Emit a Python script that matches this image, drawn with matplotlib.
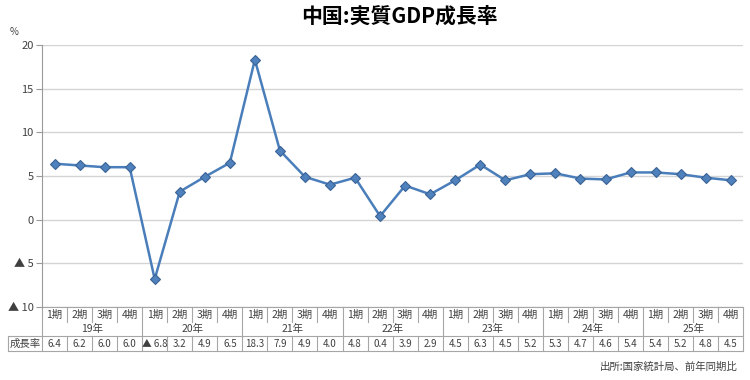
import matplotlib
matplotlib.use('Agg')
import matplotlib.pyplot as plt

plt.rcParams['font.family'] = ['Noto Sans CJK JP', 'DejaVu Sans']

# データ
years = ['19年', '20年', '21年', '22年', '23年', '24年', '25年']
quarters = ['1期', '2期', '3期', '4期']
growth = [6.4, 6.2, 6.0, 6.0,
          -6.8, 3.2, 4.9, 6.5,
          18.3, 7.9, 4.9, 4.0,
          4.8, 0.4, 3.9, 2.9,
          4.5, 6.3, 4.5, 5.2,
          5.3, 4.7, 4.6, 5.4,
          5.4, 5.2, 4.8, 4.5]
yticks = [-10, -5, 0, 5, 10, 15, 20]


def fmt(v):
    s = f'{abs(v):g}' if isinstance(v, int) else f'{abs(v):.1f}'
    return ('▲ ' + s) if v < 0 else s


n = len(growth)
x = list(range(n))
line_col = '#4a7ebb'
grid_col = '#d4d4d4'
tab_col = '#a6a6a6'
txt_col = '#404040'

fig = plt.figure(figsize=(7.5, 3.8), dpi=100)
ax = fig.add_axes([0.056, 0.192, 0.935, 0.69])

ax.plot(x, growth, color=line_col, lw=1.8, marker='D', ms=5.5,
        mfc='#4f81bd', mec='#3a6396', mew=0.8, zorder=3)

ax.set_xlim(-0.5, n - 0.5)
ax.set_ylim(-10, 20)
ax.set_yticks(yticks)
ax.set_yticklabels([fmt(v) for v in yticks], fontsize=8, color=txt_col)
ax.yaxis.grid(True, color=grid_col, lw=1)
ax.set_axisbelow(True)
ax.set_xticks([])
for s in ['top', 'right', 'bottom']:
    ax.spines[s].set_visible(False)
ax.spines['left'].set_color('#9a9a9a')
ax.tick_params(axis='y', length=4, color='#9a9a9a', pad=2)

ax.text(-0.04, 1.03, '%', transform=ax.transAxes, fontsize=7, color=txt_col,
        ha='center', va='bottom')

fig.suptitle('中国:実質GDP成長率', x=0.533, y=0.985, fontsize=15, fontweight='bold')

# 表
tr = ax.get_xaxis_transform()
r0, r1, r2, r3 = 0.0, -0.057, -0.111, -0.168
xl = -0.5 - 34 / 701 * n  # ラベル列の左端
kw = dict(color=tab_col, lw=0.8, transform=tr, clip_on=False)

ax.plot([-0.5, n - 0.5], [r0, r0], **kw)
ax.plot([xl, n - 0.5], [r2, r2], **kw)
ax.plot([xl, n - 0.5], [r3, r3], **kw)
ax.plot([xl, xl], [r2, r3], **kw)
ax.plot([-0.5, -0.5], [r0, r3], **kw)
ax.plot([n - 0.5, n - 0.5], [r0, r3], **kw)

for i in range(n):
    ax.text(i, (r0 + r1) / 2, quarters[i % 4], transform=tr, ha='center', va='center',
            fontsize=7.5, color=txt_col)
    ax.text(i, (r2 + r3) / 2, fmt(growth[i]), transform=tr, ha='center', va='center',
            fontsize=7, color=txt_col)
    if i > 0:
        ax.plot([i - 0.5, i - 0.5], [r0, r1 if i % 4 else r2], **kw)
        ax.plot([i - 0.5, i - 0.5], [r2, r3], **kw)

for j, yr in enumerate(years):
    ax.text(4 * j + 1.5, (r1 + r2) / 2, yr, transform=tr, ha='center', va='center',
            fontsize=7.5, color=txt_col)

ax.text((xl - 0.5) / 2, (r2 + r3) / 2, '成長率', transform=tr, ha='center', va='center',
        fontsize=7.5, color=txt_col)

fig.text(0.983, 0.035, '出所:国家統計局、前年同期比', ha='right', va='center',
         fontsize=7.5, color=txt_col)

fig.savefig('out.png', dpi=100, facecolor='white')
